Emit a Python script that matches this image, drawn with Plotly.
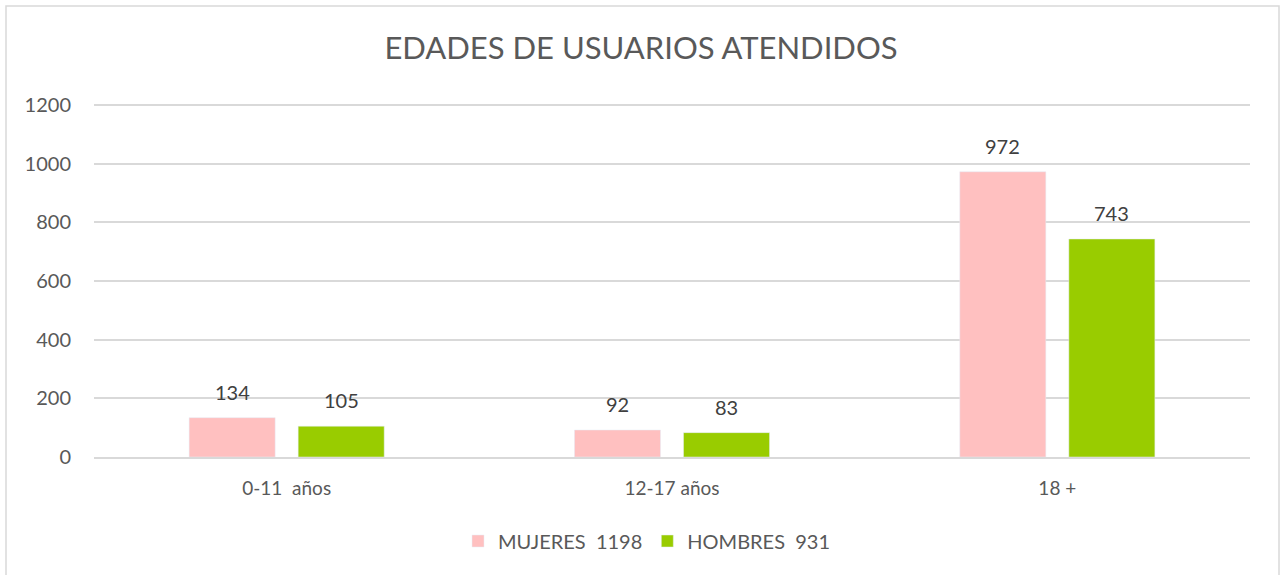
import plotly.graph_objects as go

categories = ["0-11  años", "12-17 años", "18 +"]
mujeres = [134, 92, 972]
hombres = [105, 83, 743]
series_names = ["MUJERES  1198", "HOMBRES  931"]
colors = ["#FFC0C0", "#99CC00"]
y_ticks = [0, 200, 400, 600, 800, 1000, 1200]

FONT = "Lato, Open Sans, sans-serif"
PH = 575 - 99 - 118  # plot height in px

fig = go.Figure()
fig.add_trace(go.Bar(x=categories, y=mujeres, name=series_names[0], marker_color=colors[0]))
fig.add_trace(go.Bar(x=categories, y=hombres, name=series_names[1], marker_color=colors[1]))

annotations = []
for vals, shift in [(mujeres, -54.5), (hombres, 54.5)]:
    for c, v in zip(categories, vals):
        annotations.append(dict(x=c, y=v, xref="x", yref="y", text=str(v), showarrow=False,
                                xshift=shift, yshift=26, yanchor="middle",
                                font=dict(family=FONT, size=20, color="#404040")))

fig.update_layout(
    width=1282, height=575,
    margin=dict(l=94, r=32, t=99, b=118),
    paper_bgcolor="white", plot_bgcolor="white",
    barmode="group", bargap=0.434, bargroupgap=0.211,
    title=dict(text="EDADES DE USUARIOS ATENDIDOS", x=0.5, xanchor="center", y=1 - 48/575, yanchor="middle",
               font=dict(family=FONT, size=31, color="#595959")),
    font=dict(family=FONT, size=20, color="#595959"),
    xaxis=dict(showgrid=False, showline=True, linecolor="#D9D9D9", linewidth=1.5, ticks="",
               tickfont=dict(size=19, color="#595959"), ticklabelstandoff=13),
    yaxis=dict(range=[0, 1220], tickvals=y_ticks, showgrid=True, gridcolor="#D9D9D9", gridwidth=1.5,
               zeroline=False, showline=False, ticks="", ticklabelstandoff=22,
               tickfont=dict(size=20, color="#595959")),
    legend=dict(orientation="h", x=(647-94)/1156, xanchor="center", y=-(541-457)/PH, yanchor="middle",
                font=dict(size=20, color="#595959"), itemwidth=30, traceorder="normal"),
    annotations=annotations,
    shapes=[dict(type="rect", xref="paper", yref="paper",
                 x0=(6-94)/1156, x1=(1279-94)/1156, y0=(457-585)/PH, y1=1+(99-6)/PH,
                 line=dict(color="#D9D9D9", width=1.5), fillcolor="rgba(0,0,0,0)", layer="below")],
    showlegend=True,
)

fig.write_html("out.html", config={"displayModeBar": False},
               post_script="document.body.style.margin='0';document.body.style.overflow='hidden';")
